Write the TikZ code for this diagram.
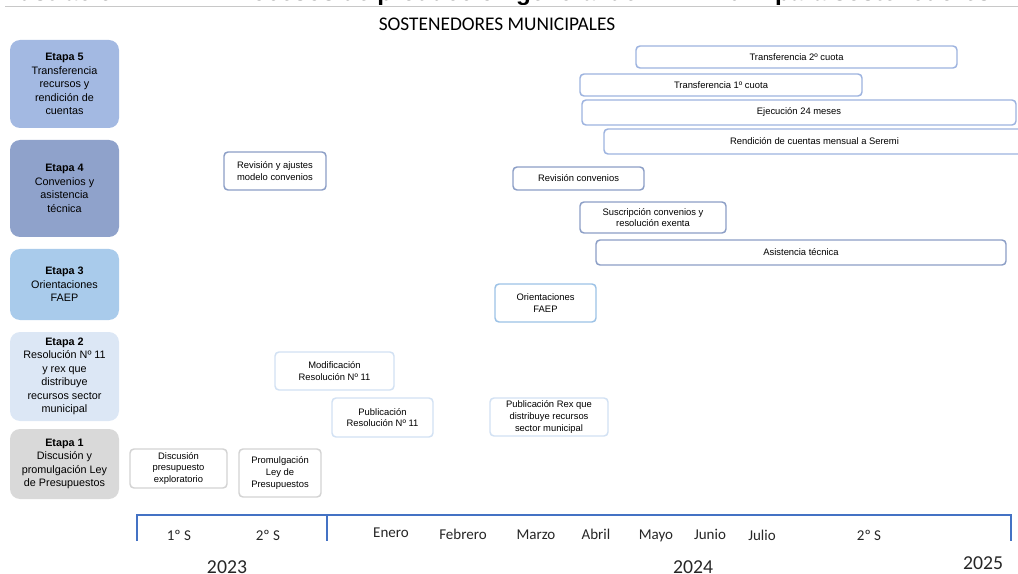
\documentclass[tikz,border=0pt]{standalone}
\usepackage{fontspec}
\setmainfont{Liberation Sans}
\newfontfamily\axisfont{Carlito}

\definecolor{s5}{HTML}{A3B9E2}
\definecolor{s4}{HTML}{8FA2CB}
\definecolor{s3}{HTML}{A9CBEB}
\definecolor{s2}{HTML}{DCE7F5}
\definecolor{s1}{HTML}{D9D9D9}
\definecolor{b5}{HTML}{9DB3DF}
\definecolor{b4}{HTML}{8C9EC6}
\definecolor{b3}{HTML}{9CC2E6}
\definecolor{b2}{HTML}{D2E1F3}
\definecolor{b1}{HTML}{D3D3D3}
\definecolor{axisblue}{HTML}{4472C4}
\definecolor{axistext}{HTML}{262626}
\definecolor{ruleline}{HTML}{C8C8C8}

\newcommand\stagefont{\fontsize{8.1}{10.1}\selectfont}
\newcommand\taskfont{\fontsize{7.05}{8.8}\selectfont}

\begin{document}
\begin{tikzpicture}[x=0.75pt,y=-0.75pt,
  sz/.style 2 args={minimum width=#1*0.75pt, minimum height=#2*0.75pt},
  stagebox/.style={fill=#1, draw=none, rounded corners=7.5pt, inner sep=0pt,
    align=center, font=\stagefont},
  taskbox/.style={draw=#1, fill=white, line width=1.1pt, rounded corners=3pt,
    inner sep=0pt, align=center, font=\taskfont},
  axisline/.style={draw=axisblue, line width=1.5pt},
  axislabel/.style={font=\axisfont\fontsize{11.25}{13}\selectfont, text=axistext,
    anchor=base, inner sep=0pt},
  yearlabel/.style={font=\axisfont\fontsize{14.8}{17}\selectfont, text=axistext,
    anchor=base, inner sep=0pt}]

\useasboundingbox (0,0) rectangle (1018,574);
\clip (0,0) rectangle (1018,574);

% caption line running off the top edge
\begin{scope}
  \clip (0,0) rectangle (1018,4.5);
  \node[anchor=base west, inner sep=0pt, font=\bfseries\fontsize{18.2}{20}\selectfont]
    (capa) at (5,0.3) {Ilustración};
  \node[anchor=base west, inner sep=0pt, font=\bfseries\fontsize{18.2}{20}\selectfont]
    (capb) at (226,0.3) {Procesos de producción general de FAEP 2024 para sostenedores};
\end{scope}
\draw[ruleline, line width=1.1pt] (5,6.5) -- (1018,6.5);

\node[anchor=base, inner sep=0pt, font=\axisfont\fontsize{14.5}{16}\selectfont]
  (titulo) at (497,31) {SOSTENEDORES MUNICIPALES};

% stages
\node[stagebox=s5, sz={109}{88}] (e5) at (64.5,84)
  {\textbf{Etapa 5}\\Transferencia\\recursos y\\rendición de\\cuentas};
\node[stagebox=s4, sz={109}{97}] (e4) at (64.5,188.5)
  {\textbf{Etapa 4}\\Convenios y\\asistencia\\técnica};
\node[stagebox=s3, sz={109}{71}] (e3) at (64.5,284.5)
  {\textbf{Etapa 3}\\Orientaciones\\FAEP};
\node[stagebox=s2, sz={109}{89}] (e2) at (64.5,376.5)
  {\textbf{Etapa 2}\\Resolución Nº 11\\y rex que\\distribuye\\recursos sector\\municipal};
\node[stagebox=s1, sz={109}{70}] (e1) at (64.5,464)
  {\textbf{Etapa 1}\\Discusión y\\promulgación Ley\\de Presupuestos};

% stage 5 activities
\node[taskbox=b5, sz={321}{22}] (t2cuota) at (796.5,57) {Transferencia 2º cuota};
\node[taskbox=b5, sz={282}{22}] (t1cuota) at (721,85) {Transferencia 1º cuota};
\node[taskbox=b5, sz={434}{25}] (ejec) at (799,112.5) {Ejecución 24 meses};
\node[taskbox=b5, sz={421}{25}] (rend) at (814.5,141.5) {Rendición de cuentas mensual a Seremi};

% stage 4 activities
\node[taskbox=b4, sz={102}{38}] (revaj) at (275,171) {Revisión y ajustes\\modelo convenios};
\node[taskbox=b4, sz={131}{23}] (revconv) at (578.5,178.5) {Revisión convenios};
\node[taskbox=b4, sz={146}{31}] (suscr) at (653,217.5) {Suscripción convenios y\\resolución exenta};
\node[taskbox=b4, sz={410}{25}] (asist) at (801,252.5) {Asistencia técnica};

% stage 3 activity
\node[taskbox=b3, sz={101}{38}] (orient) at (545.5,303) {Orientaciones\\FAEP};

% stage 2 activities
\node[taskbox=b2, sz={119}{38}] (modif) at (334.5,371) {Modificación\\Resolución Nº 11};
\node[taskbox=b2, sz={101}{39}] (publres) at (382.5,417.5) {Publicación\\Resolución Nº 11};
\node[taskbox=b2, sz={118}{38}] (publrex) at (549,417) {Publicación Rex que\\distribuye recursos\\sector municipal};

% stage 1 activities
\node[taskbox=b1, sz={97}{39}] (discu) at (178.5,468.5) {Discusión\\presupuesto\\exploratorio};
\node[taskbox=b1, sz={82}{48}] (promu) at (280,473) {Promulgación\\Ley de\\Presupuestos};

% time axis
\coordinate (axL) at (137,541);
\coordinate (axLt) at (137,515);
\coordinate (axRt) at (1011,515);
\coordinate (axR) at (1011,541);
\coordinate (axMt) at (327,515);
\coordinate (axM) at (327,541);
\draw[axisline] (axL) -- (axLt) -- (axRt) -- (axR);
\draw[axisline] (axMt) -- (axM);

\begin{scope}
  \clip (0,500) rectangle (1018,541);
  \node[axislabel] (s1a) at (179,540) {1º S};
  \node[axislabel] (s2a) at (268,540) {2º S};
  \node[axislabel] (ene) at (391,537) {Enero};
  \node[axislabel] (feb) at (463,539) {Febrero};
  \node[axislabel] (mar) at (536,539) {Marzo};
  \node[axislabel] (abr) at (596,539) {Abril};
  \node[axislabel] (may) at (656,539) {Mayo};
  \node[axislabel] (jun) at (710,539) {Junio};
  \node[axislabel] (jul) at (762,540) {Julio};
  \node[axislabel] (s2b) at (869,540) {2º S};
\end{scope}

\node[yearlabel] (y23) at (227,573) {2023};
\node[yearlabel] (y24) at (693,573) {2024};
\node[yearlabel] (y25) at (983,569) {2025};

\end{tikzpicture}
\end{document}
